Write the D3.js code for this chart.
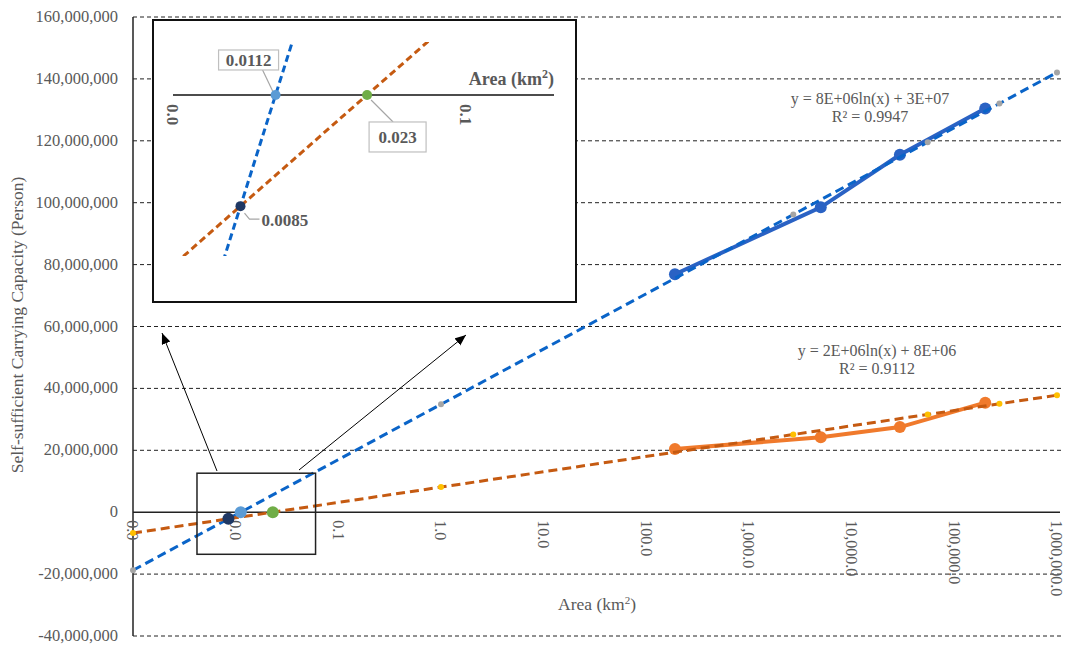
<!DOCTYPE html>
<html>
<head>
<meta charset="utf-8">
<script src="https://cdn.jsdelivr.net/npm/d3@7"></script>
<style>
body { margin: 0; background: #fff; }
text { font-family: "Liberation Serif", "Times New Roman", serif; }
</style>
</head>
<body>
<div class="container"></div>
<script>
let width = 1067
let height = 647

// observed points: area (km2) vs self-sufficient capacity
let areas = [190, 5000, 29500, 200000]
let blueCap = [76.9e6, 98.5e6, 115.5e6, 130.4e6]
let orangeCap = [20.4e6, 24.2e6, 27.5e6, 35.4e6]

// points along the log trend lines (small dots in the picture)
let fitAreas = [0.001, 1, 2700, 55000, 275000, 1000000]
let blueFit = [-18.75e6, 34.86e6, 96.17e6, 119.56e6, 132.05e6, 142.07e6]
let orangeFit = [-6.74e6, 8.11e6, 25.10e6, 31.58e6, 35.04e6, 37.81e6]

// crossing points
let crossAreas = [0.0085, 0.0112, 0.023]
let crossCap = [-2.14e6, 0, 0]
let crossLabels = ["0.0085", "0.0112", "0.023"]
let crossColors = ["#1F3864", "#5B9BD5", "#70AD47"]

let xTicks = [0.001, 0.01, 0.1, 1, 10, 100, 1000, 10000, 100000, 1000000]
let yTicks = [-40e6, -20e6, 0, 20e6, 40e6, 60e6, 80e6, 100e6, 120e6, 140e6, 160e6]
let insetTicks = [0.005, 0.05]

let blueEq = ["y = 8E+06ln(x) + 3E+07", "R² = 0.9947"]
let orangeEq = ["y = 2E+06ln(x) + 8E+06", "R² = 0.9112"]

let grey = "#595959"
let blueSolid = "#2A62C4"
let blueDash = "#0A64C8"
let orangeSolid = "#F07A2C"
let orangeDash = "#C55A11"

let x = d3.scaleLog().domain([0.001, 1e6]).range([133, 1057])
let y = d3.scaleLinear().domain([-40e6, 160e6]).range([636, 17])

let svg = d3.select(".container")
  .append("svg")
  .attr("width", width)
  .attr("height", height)

let defs = svg.append("defs")
defs.append("marker")
  .attr("id", "arrow")
  .attr("markerUnits", "userSpaceOnUse")
  .attr("markerWidth", 12)
  .attr("markerHeight", 10)
  .attr("refX", 11)
  .attr("refY", 4.5)
  .attr("orient", "auto")
  .append("path")
  .attr("d", "M0,0 L11,4.5 L0,9 z")
  .attr("fill", "#000")

// grid
svg.selectAll(".grid")
  .data(yTicks.filter(d => d !== 0))
  .enter()
  .append("line")
  .attr("class", "grid")
  .attr("x1", 133).attr("x2", 1062)
  .attr("y1", d => y(d)).attr("y2", d => y(d))
  .attr("stroke", "#222")
  .attr("stroke-width", 1)
  .attr("stroke-dasharray", "4,3")

// axes
svg.append("line")
  .attr("x1", 133).attr("x2", 133)
  .attr("y1", y(-40e6)).attr("y2", y(160e6))
  .attr("stroke", "#222").attr("stroke-width", 1.5)
svg.append("line")
  .attr("x1", 133).attr("x2", 1060)
  .attr("y1", y(0)).attr("y2", y(0))
  .attr("stroke", "#222").attr("stroke-width", 1.5)

svg.selectAll(".ytick")
  .data(yTicks)
  .enter()
  .append("text")
  .attr("class", "ytick")
  .attr("x", 118)
  .attr("y", d => y(d) + 5)
  .attr("text-anchor", "end")
  .attr("font-size", "16.5px")
  .attr("fill", grey)
  .text(d => d3.format(",")(d).replace("−", "-"))

svg.selectAll(".xtick")
  .data(xTicks)
  .enter()
  .append("text")
  .attr("class", "xtick")
  .attr("transform", d => `translate(${x(d)},${y(0) + 8}) rotate(90)`)
  .attr("dy", "0.35em")
  .attr("font-size", "16px")
  .attr("fill", grey)
  .text(d => d3.format(",.1f")(d))

svg.append("text")
  .attr("transform", "translate(23,325) rotate(-90)")
  .attr("text-anchor", "middle")
  .attr("font-size", "17.5px")
  .attr("fill", grey)
  .text("Self-sufficient Carrying Capacity (Person)")

let xTitle = svg.append("text")
  .attr("x", 597).attr("y", 610)
  .attr("text-anchor", "middle")
  .attr("font-size", "17.5px")
  .attr("fill", grey)
xTitle.append("tspan").text("Area (km")
xTitle.append("tspan").attr("dy", -6).attr("font-size", "11px").text("2")
xTitle.append("tspan").attr("dy", 6).text(")")

// series
let line = d3.line().x(d => x(d[0])).y(d => y(d[1]))

function drawSeries(values, color) {
  let pts = areas.map((a, i) => [a, values[i]])
  svg.append("path")
    .datum(pts)
    .attr("d", line)
    .attr("fill", "none")
    .attr("stroke", color)
    .attr("stroke-width", 4)
  svg.selectAll(null)
    .data(pts)
    .enter()
    .append("circle")
    .attr("cx", d => x(d[0]))
    .attr("cy", d => y(d[1]))
    .attr("r", 6)
    .attr("fill", color)
}

function drawFit(values, color, dotColor) {
  let pts = fitAreas.map((a, i) => [a, values[i]])
  svg.append("path")
    .datum(pts)
    .attr("d", line)
    .attr("fill", "none")
    .attr("stroke", color)
    .attr("stroke-width", 3)
    .attr("stroke-dasharray", "9,5")
  svg.selectAll(null)
    .data(pts)
    .enter()
    .append("circle")
    .attr("cx", d => x(d[0]))
    .attr("cy", d => y(d[1]))
    .attr("r", 3)
    .attr("fill", dotColor)
}

drawSeries(blueCap, blueSolid)
drawSeries(orangeCap, orangeSolid)
drawFit(blueFit, blueDash, "#A5A5A5")
drawFit(orangeFit, orangeDash, "#FFC000")

svg.selectAll(".cross")
  .data(crossAreas)
  .enter()
  .append("circle")
  .attr("class", "cross")
  .attr("cx", d => x(d))
  .attr("cy", (d, i) => y(crossCap[i]))
  .attr("r", 6)
  .attr("fill", (d, i) => crossColors[i])

// trend equations
function drawEq(lines, cx, cy) {
  svg.selectAll(null)
    .data(lines)
    .enter()
    .append("text")
    .attr("x", cx)
    .attr("y", (d, i) => cy + i * 18)
    .attr("text-anchor", "middle")
    .attr("font-size", "16px")
    .attr("fill", grey)
    .text(d => d)
}
drawEq(blueEq, 870, 104)
drawEq(orangeEq, 877, 356)

// zoom box and arrows
let zoomBox = { x: [0.0042, 0.06], y: [-13.6e6, 12.6e6] }
svg.append("rect")
  .attr("x", x(zoomBox.x[0]))
  .attr("y", y(zoomBox.y[1]))
  .attr("width", x(zoomBox.x[1]) - x(zoomBox.x[0]))
  .attr("height", y(zoomBox.y[0]) - y(zoomBox.y[1]))
  .attr("fill", "none")
  .attr("stroke", "#222")
  .attr("stroke-width", 1.5)

let arrows = [[217, 471, 162, 333], [299, 470, 466, 335]]
svg.selectAll(".arrow")
  .data(arrows)
  .enter()
  .append("line")
  .attr("class", "arrow")
  .attr("x1", d => d[0]).attr("y1", d => d[1])
  .attr("x2", d => d[2]).attr("y2", d => d[3])
  .attr("stroke", "#000")
  .attr("stroke-width", 1)
  .attr("marker-end", "url(#arrow)")

// inset
let inset = svg.append("g")
inset.append("rect")
  .attr("x", 153).attr("y", 20)
  .attr("width", 423).attr("height", 282)
  .attr("fill", "#fff")
  .attr("stroke", "#111")
  .attr("stroke-width", 2)

let ix = d3.scaleLog().domain([0.005, 0.1]).range([173, 554])
let iy = d3.scaleLinear().domain([-3.1e6, 1.02e6]).range([256, 42])
let iline = d3.line().x(d => ix(d[0])).y(d => iy(d[1]))

defs.append("clipPath")
  .attr("id", "insetClip")
  .append("rect")
  .attr("x", 153).attr("y", iy.range()[1])
  .attr("width", 423).attr("height", iy.range()[0] - iy.range()[1])

inset.append("line")
  .attr("x1", ix.range()[0]).attr("x2", ix.range()[1])
  .attr("y1", iy(0)).attr("y2", iy(0))
  .attr("stroke", "#111").attr("stroke-width", 1.5)

inset.selectAll(".itick")
  .data(insetTicks)
  .enter()
  .append("text")
  .attr("class", "itick")
  .attr("transform", d => `translate(${ix(d)},${iy(0) + 9}) rotate(90)`)
  .attr("dy", "0.35em")
  .attr("font-size", "17px")
  .attr("font-weight", "bold")
  .attr("fill", grey)
  .text(d => d3.format(".1f")(d))

let iTitle = inset.append("text")
  .attr("x", ix.range()[1]).attr("y", iy(0) - 10)
  .attr("text-anchor", "end")
  .attr("font-size", "18px")
  .attr("font-weight", "bold")
  .attr("fill", grey)
iTitle.append("tspan").text("Area (km")
iTitle.append("tspan").attr("dy", -7).attr("font-size", "12px").text("2")
iTitle.append("tspan").attr("dy", 7).text(")")

let clipped = inset.append("g").attr("clip-path", "url(#insetClip)")
;[[blueFit, blueDash], [orangeFit, orangeDash]].forEach(function(f) {
  clipped.append("path")
    .datum(fitAreas.map((a, i) => [a, f[0][i]]))
    .attr("d", iline)
    .attr("fill", "none")
    .attr("stroke", f[1])
    .attr("stroke-width", 3)
    .attr("stroke-dasharray", "7,4")
})

// callouts
let ipts = crossAreas.map((a, i) => ({ x: ix(a), y: iy(crossCap[i]), label: crossLabels[i], color: crossColors[i] }))

// 0.0085 : plain label with bent leader
inset.append("path")
  .attr("d", `M${ipts[0].x + 4},${ipts[0].y + 7} L${ipts[0].x + 9},${ipts[0].y + 13} L${ipts[0].x + 19},${ipts[0].y + 13}`)
  .attr("fill", "none").attr("stroke", "#A6A6A6").attr("stroke-width", 1.2)
inset.append("text")
  .attr("x", ipts[0].x + 21).attr("y", ipts[0].y + 20)
  .attr("font-size", "17px").attr("font-weight", "bold").attr("fill", grey)
  .text(ipts[0].label)

// 0.0112 : box above left
inset.append("line")
  .attr("x1", ipts[1].x - 13).attr("y1", ipts[1].y - 25)
  .attr("x2", ipts[1].x - 2).attr("y2", ipts[1].y - 2)
  .attr("stroke", "#A6A6A6").attr("stroke-width", 1.2)
inset.append("rect")
  .attr("x", ipts[1].x - 57).attr("y", ipts[1].y - 45)
  .attr("width", 60).attr("height", 20)
  .attr("fill", "#fff").attr("stroke", "#BFBFBF").attr("stroke-width", 1.2)
inset.append("text")
  .attr("x", ipts[1].x - 27).attr("y", ipts[1].y - 29)
  .attr("text-anchor", "middle")
  .attr("font-size", "17px").attr("font-weight", "bold").attr("fill", grey)
  .text(ipts[1].label)

// 0.023 : box below right
inset.append("line")
  .attr("x1", ipts[2].x + 4).attr("y1", ipts[2].y + 5)
  .attr("x2", ipts[2].x + 26).attr("y2", ipts[2].y + 27)
  .attr("stroke", "#A6A6A6").attr("stroke-width", 1.2)
inset.append("rect")
  .attr("x", ipts[2].x + 2).attr("y", ipts[2].y + 27)
  .attr("width", 57).attr("height", 30)
  .attr("fill", "#fff").attr("stroke", "#BFBFBF").attr("stroke-width", 1.2)
inset.append("text")
  .attr("x", ipts[2].x + 30.5).attr("y", ipts[2].y + 48)
  .attr("text-anchor", "middle")
  .attr("font-size", "17px").attr("font-weight", "bold").attr("fill", grey)
  .text(ipts[2].label)

inset.selectAll(".ipt")
  .data(ipts)
  .enter()
  .append("circle")
  .attr("class", "ipt")
  .attr("cx", d => d.x)
  .attr("cy", d => d.y)
  .attr("r", 5)
  .attr("fill", d => d.color)
</script>
</body>
</html>
